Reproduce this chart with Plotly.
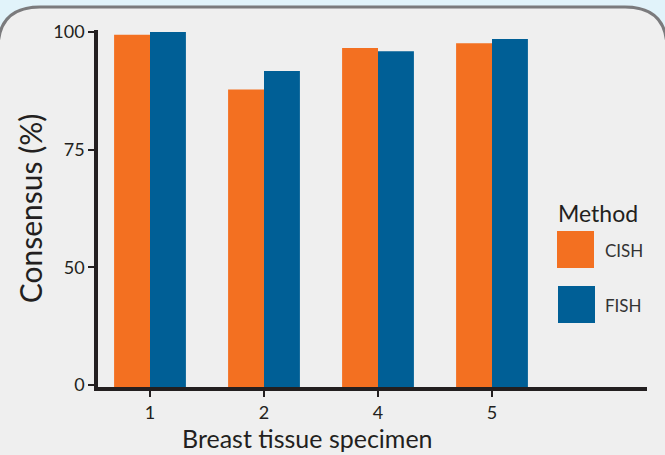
import plotly.graph_objects as go

specimens = ["1", "2", "4", "5"]
cish = [99.4, 87.8, 96.6, 97.6]
fish = [100.0, 91.7, 95.9, 98.5]
series_names = ["CISH", "FISH"]
series_colors = ["#F37021", "#005F96"]
ytick_vals = [25, 50, 75, 100]
ytick_text = ["0", "50", "75", "100"]

W, H = 665, 455
L, R, T, B = 98, 647, 30, 387
FONT = "Lato, 'Open Sans', sans-serif"
TXT = "#231f20"


def px(x):
    return (x - L) / (R - L)


def py(y):
    return (B - y) / (B - T)


fig = go.Figure()
for name, vals, col in zip(series_names, [cish, fish], series_colors):
    fig.add_trace(go.Bar(x=specimens, y=vals, name=name, marker=dict(color=col, line=dict(width=0)),
                         showlegend=False))

# panel with rounded corners
x0, x1, y0, y1, r = -2, 667, 7, 480, 42
path = (f"M {px(x0)},{py(y0 + r)} Q {px(x0)},{py(y0)} {px(x0 + r)},{py(y0)} "
        f"L {px(x1 - r)},{py(y0)} Q {px(x1)},{py(y0)} {px(x1)},{py(y0 + r)} "
        f"L {px(x1)},{py(y1)} L {px(x0)},{py(y1)} Z")
shapes = [dict(type="path", xref="paper", yref="paper", path=path, fillcolor="#efefef",
               line=dict(color="#7b7b7d", width=3), layer="below")]

# custom legend
leg = [(557, 231), (558, 286)]
annotations = [dict(x=px(556), y=py(213), xref="paper", yref="paper", text="Method", showarrow=False,
                    xanchor="left", yanchor="middle", font=dict(size=23, color=TXT, family=FONT))]
for (lx, ly), name, col in zip(leg, series_names, series_colors):
    shapes.append(dict(type="rect", xref="paper", yref="paper", x0=px(lx), x1=px(lx + 37),
                       y0=py(ly), y1=py(ly + 37), fillcolor=col, line=dict(width=0)))
    annotations.append(dict(x=px(603), y=py(ly + 19), xref="paper", yref="paper", text=name,
                            showarrow=False, xanchor="left", yanchor="middle",
                            font=dict(size=17, color="#333333", family=FONT)))

annotations.append(dict(x=px(307), y=py(438), xref="paper", yref="paper", text="Breast tissue specimen",
                        showarrow=False, xanchor="center", yanchor="middle",
                        font=dict(size=25, color=TXT, family=FONT)))

ppu = (385 - 32) / 75.0
fig.update_layout(
    width=W, height=H,
    margin=dict(l=L, r=W - R, t=T, b=H - B, pad=0),
    paper_bgcolor="#e1f3fa", plot_bgcolor="rgba(0,0,0,0)",
    barmode="group", bargap=0.37, bargroupgap=0,
    font=dict(family=FONT, color=TXT),
    shapes=shapes, annotations=annotations,
    xaxis=dict(range=[-(150 - L) / 114, (R - 150) / 114], showgrid=False, zeroline=False,
               showline=True, linecolor=TXT, linewidth=4, ticks="outside", ticklen=6, tickwidth=1.5,
               tickcolor=TXT, tickfont=dict(size=18, color=TXT, family=FONT)),
    yaxis=dict(range=[25 - (B - 385) / ppu, 100 + (32 - T) / ppu], showgrid=False, zeroline=False,
               showline=True, linecolor=TXT, linewidth=3.5, ticks="outside", ticklen=6, tickwidth=1.5,
               tickcolor=TXT, tickvals=ytick_vals, ticktext=ytick_text,
               tickfont=dict(size=18, color=TXT, family=FONT),
               title=dict(text="Consensus (%)", font=dict(size=30, color=TXT, family=FONT), standoff=3)),
)

fig.write_html("out.html", config={"displayModeBar": False},
               post_script="document.body.style.margin='0';document.body.style.overflow='hidden';")
